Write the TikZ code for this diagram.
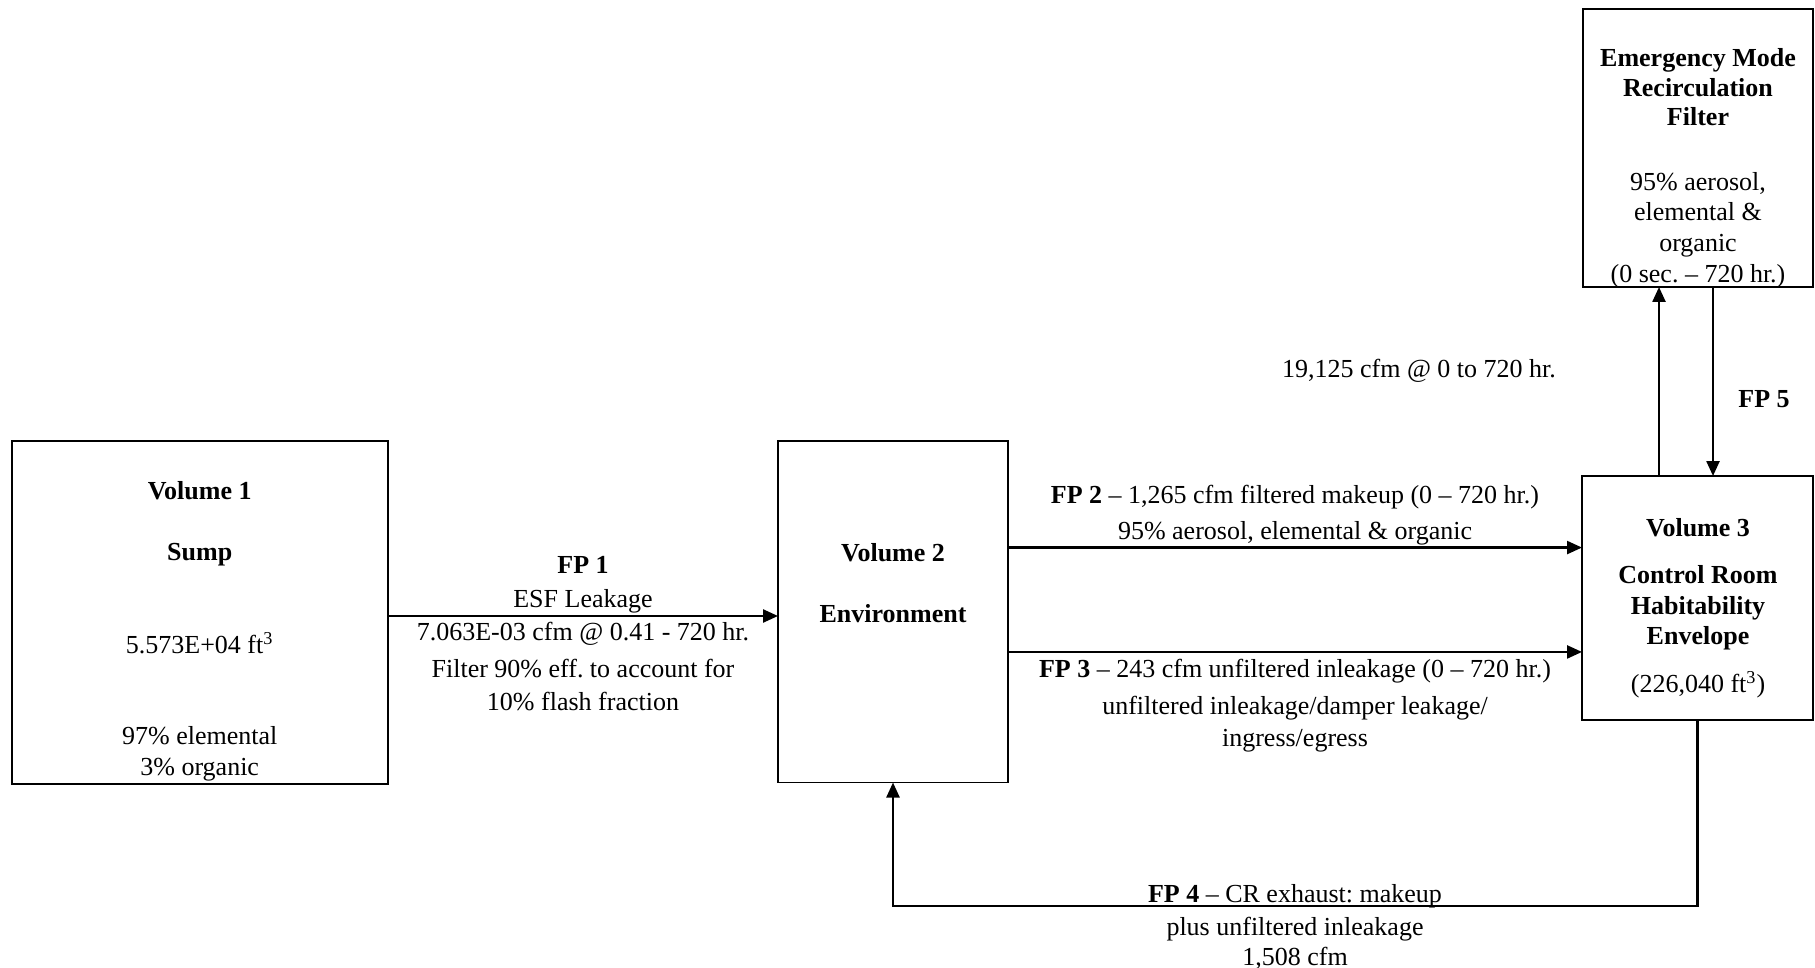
\documentclass[tikz,border=0pt]{standalone}
\usepackage{fontspec}
\setmainfont{Liberation Serif}
\usetikzlibrary{arrows.meta}
\frenchspacing
\begin{document}
\begin{tikzpicture}[x=0.5pt,y=-0.5pt,
  box/.style={draw, line width=0.9pt, inner sep=0pt, outer sep=0pt},
  flow/.style={line width=1.2pt, -{Triangle[length=7.5pt,width=6.5pt]}},
  txt/.style={anchor=base, inner sep=0pt, font=\fontsize{13}{16}\selectfont},
  btxt/.style={txt, font=\fontsize{13}{16}\selectfont\bfseries}]
\useasboundingbox (0,0) rectangle (1815,968);

% compartments
\node[box, minimum width=188.1pt, minimum height=171.3pt] (v1) at (199.7,612.3) {};
\node[box, minimum width=115pt, minimum height=170.75pt] (v2) at (893,611.75) {};
\node[box, minimum width=115.5pt, minimum height=122pt] (v3) at (1697.5,598) {};
\node[box, minimum width=115pt, minimum height=139pt] (emrf) at (1698,148) {};

% Volume 1 text
\node[btxt] (v1a) at (199.7,499) {Volume 1};
\node[btxt] (v1b) at (199.7,560) {Sump};
\node[txt] (v1c) at (199.7,653) {5.573E+04 ft\textsuperscript{3}};
\node[txt] (v1d) at (199.7,744) {97\% elemental};
\node[txt] (v1e) at (199.7,775) {3\% organic};

% Volume 2 text
\node[btxt] (v2a) at (893,561) {Volume 2};
\node[btxt] (v2b) at (893,622.5) {Environment};

% Volume 3 text
\node[btxt] (v3a) at (1698,536) {Volume 3};
\node[btxt] (v3b) at (1698,583) {Control Room};
\node[btxt] (v3c) at (1698,614) {Habitability};
\node[btxt] (v3d) at (1698,644.5) {Envelope};
\node[txt] (v3e) at (1698,692) {(226,040 ft\textsuperscript{3})};

% filter text
\node[btxt] (f1) at (1698,67) {Emergency Mode};
\node[btxt] (f2) at (1698,97) {Recirculation};
\node[btxt] (f3) at (1698,126) {Filter};
\node[txt] (f4) at (1698,191) {95\% aerosol,};
\node[txt] (f5) at (1698,221) {elemental \&};
\node[txt] (f6) at (1698,252) {organic};
\node[txt] (f7) at (1698,283) {(0 sec. – 720 hr.)};

% flow paths
\draw[flow] ([yshift=-1.85pt]v1.east) -- ([yshift=-1.85pt]v1.east -| v2.west);
\draw[flow] ([yshift=32.1pt]v2.east) -- ([yshift=32.1pt]v2.east -| v3.west);
\draw[flow] ([yshift=-20.1pt]v2.east) -- ([yshift=-20.1pt]v2.east -| v3.west);
\draw[flow] (v3.south) |- ([yshift=-61.75pt]v2.south) -- (v2.south);
\draw[flow] ([xshift=-19.25pt]v3.north) -- ([xshift=-19.25pt]v3.north |- emrf.south);
\draw[flow] ([xshift=7.75pt]v3.north |- emrf.south) -- ([xshift=7.75pt]v3.north);

% FP 1 label
\node[btxt] (p1a) at (583,573) {FP 1};
\node[txt] (p1b) at (583,607) {ESF Leakage};
\node[txt] (p1c) at (583,640) {7.063E-03 cfm @ 0.41 - 720 hr.};
\node[txt] (p1d) at (583,677) {Filter 90\% eff. to account for};
\node[txt] (p1e) at (583,710.5) {10\% flash fraction};

% FP 2 label
\node[txt] (p2a) at (1295,503) {\textbf{FP 2} – 1,265 cfm filtered makeup (0 – 720 hr.)};
\node[txt] (p2b) at (1295,539) {95\% aerosol, elemental \& organic};

% FP 3 label
\node[txt] (p3a) at (1295,677) {\textbf{FP 3} – 243 cfm unfiltered inleakage (0 – 720 hr.)};
\node[txt] (p3b) at (1295,714) {unfiltered inleakage/damper leakage/};
\node[txt] (p3c) at (1295,746) {ingress/egress};

% FP 4 label
\node[txt] (p4a) at (1295,902.6) {\textbf{FP 4} – CR exhaust: makeup};
\node[txt] (p4b) at (1295,935) {plus unfiltered inleakage};
\node[txt] (p4c) at (1295,965) {1,508 cfm};

% FP 5 labels
\node[txt] (p5a) at (1419,377) {19,125 cfm @ 0 to 720 hr.};
\node[btxt] (p5b) at (1764,407) {FP 5};
\end{tikzpicture}
\end{document}
